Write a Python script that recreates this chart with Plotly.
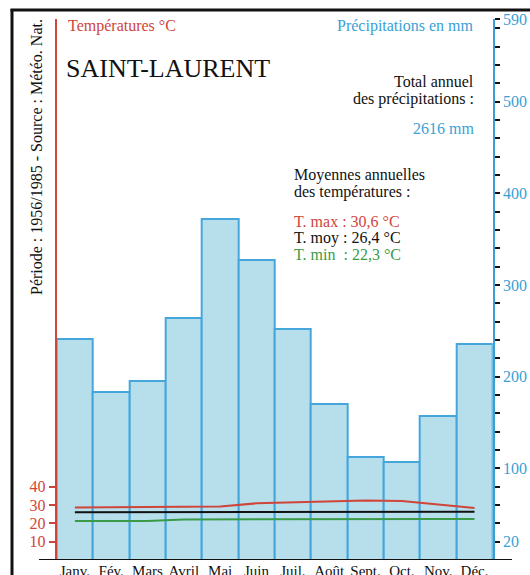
import plotly.graph_objects as go

months = ["Janv.", "Fév.", "Mars", "Avril", "Mai", "Juin", "Juil.", "Août", "Sept.", "Oct.", "Nov.", "Déc."]
precip_mm = [241, 183, 195, 264, 372, 327, 252, 170, 112, 107, 157, 236]
t_max = [28.6, 28.8, 29.0, 29.1, 29.2, 30.9, 31.3, 31.8, 32.4, 32.2, 30.4, 28.3]
t_moy = [26.0, 26.0, 26.0, 26.0, 26.1, 26.2, 26.4, 26.4, 26.4, 26.4, 26.4, 26.3]
t_min = [21.3, 21.3, 21.3, 22.1, 22.2, 22.2, 22.3, 22.4, 22.4, 22.4, 22.4, 22.4]

precip_ticks = list(range(20, 600, 20)) + [590]
precip_labels = {20: "20", 100: "100", 200: "200", 300: "300", 400: "400", 500: "500", 590: "590"}
temp_ticks = [10, 20, 30, 40]

W, H = 530, 575
RED = "#d0453a"
BLUE = "#3a9fd6"
GREEN = "#3a9a48"
FILL = "#b6deeb"
EDGE = "#45a6dc"
FONT = "Liberation Serif"

def px(x):
    return x / W

def py(y):
    return (H - y) / H

x_dom = [px(56.7), px(492.7)]
y_dom = [py(560), py(19)]

fig = go.Figure()
fig.add_trace(go.Bar(x=months, y=precip_mm, width=1.0,
                     marker=dict(color=FILL, line=dict(color=EDGE, width=2)),
                     yaxis="y", showlegend=False, hoverinfo="skip"))
for vals, col in [(t_max, RED), (t_moy, "#111111"), (t_min, GREEN)]:
    fig.add_trace(go.Scatter(x=months, y=vals, mode="lines", yaxis="y2",
                             line=dict(color=col, width=2), showlegend=False))

fig.update_layout(
    width=W, height=H, autosize=False,
    margin=dict(l=0, r=0, t=0, b=0, autoexpand=False),
    paper_bgcolor="white", plot_bgcolor="white",
    bargap=0,
    xaxis=dict(domain=x_dom, type="category", range=[-0.5, 11.5], showline=False,
               showgrid=False, zeroline=False, anchor="y", automargin=False,
               ticks="",
               tickfont=dict(family=FONT, size=15, color="#111111")),
    yaxis=dict(domain=y_dom, range=[0, 590], side="right", anchor="x", automargin=False,
               showline=True, linecolor=BLUE, linewidth=2,
               showgrid=False, zeroline=False,
               tickmode="array", tickvals=precip_ticks,
               ticktext=[precip_labels.get(v, "") for v in precip_ticks],
               ticks="outside", ticklen=5, tickwidth=2, tickcolor="#111111",
               tickfont=dict(family=FONT, size=16, color=BLUE)),
    yaxis3=dict(range=[0, 590], overlaying="y", side="right", anchor="x", automargin=False,
                showline=False, showgrid=False, zeroline=False,
                tickmode="array", tickvals=precip_ticks, showticklabels=False,
                ticks="inside", ticklen=5, tickwidth=2, tickcolor="#111111"),
    yaxis2=dict(range=[0, 295], overlaying="y", side="left", anchor="x", automargin=False,
                showline=True, linecolor=RED, linewidth=2,
                showgrid=False, zeroline=False,
                tickmode="array", tickvals=temp_ticks,
                ticks="outside", ticklen=6, tickwidth=2, tickcolor=RED,
                tickfont=dict(family=FONT, size=16, color=RED)),
    yaxis4=dict(range=[0, 295], overlaying="y", side="left", anchor="x", automargin=False,
                showline=False, showgrid=False, zeroline=False,
                tickmode="array", tickvals=temp_ticks, showticklabels=False,
                ticks="inside", ticklen=6, tickwidth=2, tickcolor=RED),
)

shapes = [
    dict(type="line", xref="paper", yref="y", x0=px(39), x1=px(512), y0=0, y1=0,
         line=dict(color="#111111", width=2)),
    dict(type="line", xref="paper", yref="paper", x0=px(12), x1=px(12), y0=py(9), y1=0,
         line=dict(color="#111111", width=3)),
    dict(type="line", xref="paper", yref="paper", x0=px(10.5), x1=1, y0=py(10), y1=py(10),
         line=dict(color="#111111", width=3)),
]
fig.update_layout(shapes=shapes)

def ann(text, x, y, size=16, color="#111111", xanchor="left", angle=0):
    fig.add_annotation(text=text, x=px(x), y=py(y), xref="paper", yref="paper",
                       xanchor=xanchor, yanchor="middle", showarrow=False,
                       textangle=angle, font=dict(family=FONT, size=size, color=color))

ann("Période : 1956/1985 - Source : Météo. Nat.", 36, 157, angle=-90, xanchor="center")
ann("Températures °C", 66, 26, color=RED)
ann("SAINT-LAURENT", 64, 68, size=26)
ann("Précipitations en mm", 476, 26, color=BLUE, xanchor="right")
ann("Total annuel", 476, 81, xanchor="right")
ann("des précipitations :", 476, 99, xanchor="right")
ann("2616 mm", 476, 129, color=BLUE, xanchor="right")
ann("Moyennes annuelles", 292, 175)
ann("des températures :", 292, 192)
ann("T. max : 30,6 °C", 292, 221, color=RED)
ann("T. moy : 26,4 °C", 292, 238)
ann("T. min\u00a0 : 22,3 °C", 292, 254, color=GREEN)

fig.write_html("out.html", config={"displayModeBar": False},
               post_script="document.body.style.margin='0';document.body.style.overflow='hidden';")
